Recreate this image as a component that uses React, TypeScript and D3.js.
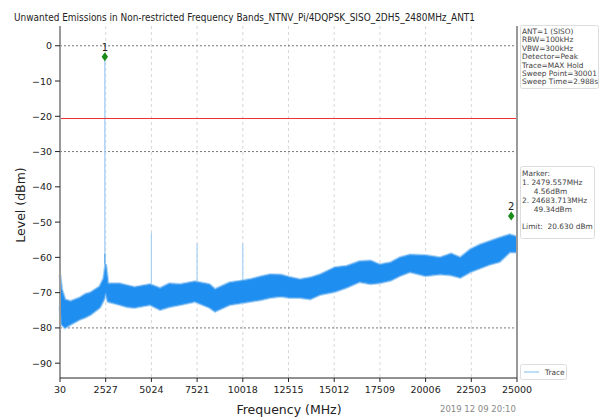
import React from "react";
import * as d3 from "d3";

const title = "Unwanted Emissions in Non-restricted Frequency Bands_NTNV_Pi/4DQPSK_SISO_2DH5_2480MHz_ANT1";
const xTicks = [30, 2527, 5024, 7521, 10018, 12515, 15012, 17509, 20006, 22503, 25000];
const yTicks = [0, -10, -20, -30, -40, -50, -60, -70, -80, -90];
const darkGrid = [0, -30, -80];
const limit = -20.63;

const freqs = [30, 120, 300, 600, 1100, 1400, 1700, 2200, 2420, 2527, 2650, 3300, 3700, 4100, 4950, 5500, 6000, 6600, 7400, 8200, 8500, 9300, 9800, 10400, 11000, 11500, 12100, 12600, 13150, 13700, 14250, 15050, 15700, 16400, 17000, 17500, 18100, 18600, 19150, 20000, 20800, 21400, 21900, 22450, 23000, 23500, 24050, 24600, 25000];
const upper = [-65, -69, -72, -72.5, -71.5, -70.5, -70, -68.3, -66, -62, -67.5, -67.5, -68, -68.5, -67.7, -68.8, -67.5, -67.7, -66.9, -67.7, -69.1, -67.2, -66.8, -66.3, -65.5, -64.9, -65, -65.7, -66.3, -65.8, -64.9, -62.9, -62.5, -61.2, -61, -62.1, -61.5, -60.1, -59.3, -59.5, -60.1, -59, -60.1, -57.8, -56.4, -55.5, -54.5, -53.6, -54.2];
const lower = [-74, -79, -80, -79, -77.6, -77, -76.2, -74.2, -72, -70, -72.5, -73.4, -74, -74.2, -73.4, -74.8, -74, -73.4, -72.5, -74.2, -75.3, -73.4, -73, -72.5, -72, -71.4, -71, -71.4, -71.4, -71.8, -70.5, -69.7, -68.5, -66.9, -67.5, -67.2, -66.5, -65.2, -64.1, -65.2, -64.7, -65, -65.7, -64.1, -63, -62, -61.2, -58.5, -58.5];

const spurFreqs = [5024, 7521, 10018];
const spurTops = [-53, -56, -56];

const markerNames = ["1", "2"];
const markerFreqs = [2479.557, 24683.713];
const markerLevels = [-3.1, -48.3];

const infoLines = ["ANT=1 (SISO)", "RBW=100kHz", "VBW=300kHz", "Detector=Peak", "Trace=MAX Hold", "Sweep Point=30001", "Sweep Time=2.988s"];
const markerLines = ["Marker:", "1. 2479.557MHz", "     4.56dBm", "2. 24683.713MHz", "     49.34dBm", "", "Limit:  20.630 dBm"];

const FONT = "DejaVu Sans, sans-serif";

export default function App() {
  const W = 615, H = 419;
  const x = d3.scaleLinear().domain([30, 25000]).range([60, 517]);
  const y = d3.scaleLinear().domain([-94.2, 5.6]).range([378, 26]);
  const idx = d3.range(freqs.length);
  const area = d3.area<number>()
    .x((i) => x(freqs[i]))
    .y0((i) => y(lower[i]))
    .y1((i) => y(upper[i]));
  const band = area(idx) || "";
  const bandTop = d3.line<number>().x((i) => x(freqs[i])).y((i) => y(upper[i]))(idx) || "";
  const bandBot = d3.line<number>().x((i) => x(freqs[i])).y((i) => y(lower[i]))(idx) || "";
  const baseAt = (f: number) => {
    const b = d3.bisector((d: number) => d).left(freqs, f);
    return upper[Math.min(b, freqs.length - 1)];
  };
  return (
    <svg width={W} height={H} style={{ position: "absolute", left: 0, top: 0, background: "#fff" }} fontFamily={FONT}>
      <text x={14} y={21} fontSize={10} textLength={461} lengthAdjust="spacingAndGlyphs" fill="#222">{title}</text>
      {/* vertical grid */}
      {xTicks.slice(1, -1).map((t) => (
        <line key={"vg" + t} x1={x(t)} x2={x(t)} y1={26} y2={378} stroke="#d8d8d8" strokeDasharray="3,3" strokeWidth={1} />
      ))}
      {darkGrid.map((t) => (
        <line key={"hg" + t} x1={60} x2={517} y1={y(t)} y2={y(t)} stroke="#666" strokeDasharray="2,2" strokeWidth={0.9} />
      ))}
      {/* spurs */}
      {spurFreqs.map((f, i) => (
        <line key={"sp" + f} x1={x(f)} x2={x(f)} y1={y(baseAt(f))} y2={y(spurTops[i])} stroke="#a8d2f5" strokeWidth={1.2} />
      ))}
      <line x1={x(markerFreqs[0])} x2={x(markerFreqs[0])} y1={y(-68)} y2={y(markerLevels[0])} stroke="#a8d2f5" strokeWidth={1.4} />
      <line x1={x(markerFreqs[0])} x2={x(markerFreqs[0])} y1={y(-66)} y2={y(-59)} stroke="#5aaaf0" strokeWidth={1.2} />
      {/* band */}
      <path d={bandTop} fill="none" stroke="#a9d3f6" strokeWidth={3} />
      <path d={bandBot} fill="none" stroke="#a9d3f6" strokeWidth={3} />
      <path d={band} fill="#1e8ef0" />
      <path d={bandTop} fill="none" stroke="#4aa2f0" strokeWidth={1} />
      <path d={bandBot} fill="none" stroke="#4aa2f0" strokeWidth={1} />
      {/* limit */}
      <line x1={60} x2={517} y1={y(limit)} y2={y(limit)} stroke="#f03030" strokeWidth={1} />
      {/* markers */}
      {markerFreqs.map((f, i) => {
        const cx = x(f), cy = y(markerLevels[i]);
        return (
          <g key={"mk" + i}>
            <path d={`M${cx},${cy - 4.5}L${cx + 3.2},${cy}L${cx},${cy + 4.5}L${cx - 3.2},${cy}Z`} fill="#1a8a1a" />
            <text x={cx} y={cy - 6} textAnchor="middle" fontSize={10} fill="#222">{markerNames[i]}</text>
          </g>
        );
      })}
      {/* spines */}
      <line x1={60} x2={60} y1={26} y2={378} stroke="#999" strokeWidth={2} />
      <line x1={517} x2={517} y1={26} y2={378} stroke="#999" strokeWidth={2} />
      <line x1={60} x2={517} y1={378} y2={378} stroke="#222" strokeWidth={1} />
      {yTicks.map((t) => (
        <g key={"yt" + t}>
          <line x1={55} x2={60} y1={y(t)} y2={y(t)} stroke="#222" strokeWidth={1} />
          <text x={52} y={y(t) + 3.5} textAnchor="end" fontSize={9.5} fill="#222">{t === 0 ? "0" : "\u2212" + Math.abs(t)}</text>
        </g>
      ))}
      {xTicks.map((t) => (
        <g key={"xt" + t}>
          <line x1={x(t)} x2={x(t)} y1={378} y2={382} stroke="#222" strokeWidth={1} />
          <text x={x(t)} y={393} textAnchor="middle" fontSize={9.5} fill="#222">{t}</text>
        </g>
      ))}
      <text x={289} y={414} textAnchor="middle" fontSize={12.5} fill="#222">Frequency (MHz)</text>
      <text transform="translate(25,205) rotate(-90)" textAnchor="middle" fontSize={12.5} fill="#222">Level (dBm)</text>
      <text x={440} y={412} fontSize={8.5} fill="#888">2019 12 09 20:10</text>
      {/* info box */}
      <rect x={520.5} y={25.5} width={78} height={63} fill="#fff" stroke="#ddd" rx={2} />
      {infoLines.map((s, i) => (
        <text key={"il" + i} x={522} y={34 + i * 8.4} fontSize={7.4} fill="#444">{s}</text>
      ))}
      <rect x={520.5} y={166.5} width={74} height={72} fill="#fff" stroke="#ddd" rx={2} />
      {markerLines.map((s, i) => (
        <text key={"ml" + i} x={522} y={176 + i * 8.9} fontSize={7.4} fill="#444" style={{ whiteSpace: "pre" }}>{s}</text>
      ))}
      {/* legend */}
      <rect x={520.5} y={364.5} width={46} height={15} fill="#fff" stroke="#ddd" rx={2} />
      <line x1={524} x2={539} y1={372} y2={372} stroke="#a8d2f5" strokeWidth={1.5} />
      <text x={545} y={375} fontSize={7.4} fill="#444">Trace</text>
    </svg>
  );
}
